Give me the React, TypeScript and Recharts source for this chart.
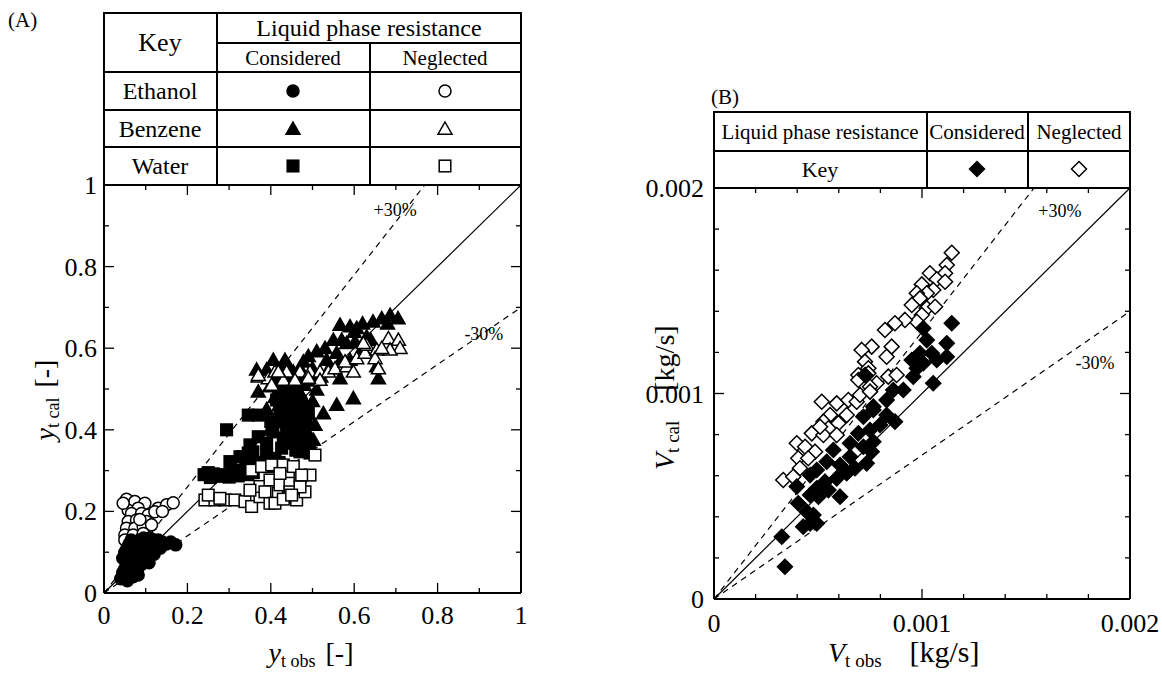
import { ReferenceDot, ReferenceLine, Scatter, ScatterChart, XAxis, YAxis } from "recharts";

const SERIF = "'Liberation Serif', 'Times New Roman', serif";

// (A) mole fraction, calculated vs observed
const ETHANOL_CONSIDERED = [
  [0.04, 0.035], [0.045, 0.05], [0.05, 0.04], [0.05, 0.06], [0.055, 0.075], [0.06, 0.05],
  [0.06, 0.09], [0.065, 0.065], [0.07, 0.08], [0.07, 0.1], [0.075, 0.06], [0.08, 0.09],
  [0.08, 0.11], [0.085, 0.075], [0.09, 0.1], [0.09, 0.12], [0.095, 0.085], [0.1, 0.11],
  [0.1, 0.095], [0.105, 0.125], [0.11, 0.105], [0.115, 0.12], [0.12, 0.095], [0.125, 0.115],
  [0.13, 0.13], [0.135, 0.11], [0.14, 0.125], [0.15, 0.12], [0.16, 0.125], [0.172, 0.118],
  [0.055, 0.11], [0.06, 0.12], [0.065, 0.13], [0.075, 0.125], [0.05, 0.1], [0.045, 0.085],
  [0.085, 0.13], [0.095, 0.135], [0.11, 0.135], [0.12, 0.13], [0.065, 0.045], [0.08, 0.055],
  [0.09, 0.07], [0.1, 0.08], [0.056, 0.03], [0.07, 0.04], [0.108, 0.074], [0.082, 0.044],
];
const ETHANOL_NEGLECTED = [
  [0.054, 0.23], [0.074, 0.224], [0.098, 0.22], [0.058, 0.203], [0.082, 0.208], [0.066, 0.195],
  [0.09, 0.195], [0.106, 0.191], [0.13, 0.208], [0.15, 0.216], [0.166, 0.221], [0.058, 0.175],
  [0.078, 0.179], [0.102, 0.175], [0.054, 0.159], [0.074, 0.159], [0.094, 0.163], [0.114, 0.167],
  [0.05, 0.142], [0.07, 0.142], [0.094, 0.146], [0.05, 0.13], [0.122, 0.199], [0.046, 0.22],
  [0.14, 0.2], [0.086, 0.18],
];
const BENZENE_CONSIDERED = [
  [0.566, 0.657], [0.59, 0.653], [0.606, 0.649], [0.62, 0.66], [0.645, 0.665], [0.666, 0.673],
  [0.68, 0.66], [0.686, 0.681], [0.705, 0.673], [0.582, 0.612], [0.602, 0.616], [0.63, 0.628],
  [0.558, 0.588], [0.534, 0.571], [0.51, 0.592], [0.566, 0.567], [0.59, 0.571], [0.654, 0.555],
  [0.658, 0.526], [0.566, 0.526], [0.598, 0.477], [0.558, 0.461], [0.406, 0.571], [0.434, 0.571],
  [0.478, 0.567], [0.366, 0.547], [0.39, 0.547], [0.426, 0.542], [0.454, 0.542], [0.37, 0.493],
  [0.398, 0.506], [0.51, 0.498], [0.526, 0.44], [0.506, 0.412], [0.502, 0.375], [0.414, 0.424],
  [0.398, 0.4], [0.42, 0.52], [0.44, 0.51], [0.46, 0.52], [0.48, 0.51], [0.43, 0.49],
  [0.45, 0.48], [0.47, 0.49], [0.42, 0.46], [0.44, 0.45], [0.46, 0.46], [0.48, 0.47],
  [0.43, 0.43], [0.45, 0.42], [0.47, 0.43], [0.49, 0.42], [0.44, 0.4], [0.46, 0.39],
  [0.48, 0.4], [0.45, 0.37], [0.47, 0.36], [0.49, 0.37], [0.5, 0.47], [0.52, 0.53],
  [0.54, 0.55], [0.5, 0.55], [0.49, 0.58], [0.53, 0.6], [0.55, 0.62], [0.57, 0.62],
  [0.62, 0.6], [0.64, 0.62], [0.6, 0.64], [0.47, 0.55], [0.44, 0.56], [0.39, 0.45],
  [0.41, 0.48], [0.5, 0.52], [0.43, 0.47], [0.45, 0.45], [0.47, 0.45], [0.44, 0.43],
  [0.46, 0.41], [0.48, 0.44], [0.42, 0.5], [0.46, 0.48], [0.48, 0.53], [0.45, 0.5],
  [0.43, 0.54], [0.41, 0.52], [0.47, 0.39], [0.49, 0.39],
];
const BENZENE_NEGLECTED = [
  [0.37, 0.53], [0.394, 0.526], [0.41, 0.542], [0.438, 0.542], [0.47, 0.542], [0.494, 0.542],
  [0.518, 0.542], [0.538, 0.542], [0.554, 0.55], [0.582, 0.555], [0.598, 0.542], [0.578, 0.567],
  [0.606, 0.575], [0.626, 0.588], [0.63, 0.608], [0.654, 0.596], [0.65, 0.575], [0.682, 0.624],
  [0.706, 0.62], [0.71, 0.6], [0.686, 0.596], [0.666, 0.6], [0.658, 0.55], [0.622, 0.612],
  [0.43, 0.522], [0.402, 0.51], [0.458, 0.522], [0.518, 0.522], [0.49, 0.527], [0.37, 0.534],
  [0.418, 0.542],
];
const WATER_CONSIDERED = [
  [0.294, 0.4], [0.346, 0.436], [0.37, 0.436], [0.302, 0.322], [0.326, 0.334], [0.35, 0.363],
  [0.37, 0.383], [0.346, 0.343], [0.333, 0.334], [0.357, 0.346], [0.39, 0.367], [0.405, 0.395],
  [0.426, 0.355], [0.45, 0.367], [0.47, 0.346], [0.494, 0.343], [0.438, 0.408], [0.422, 0.449],
  [0.414, 0.473], [0.24, 0.29], [0.255, 0.283], [0.262, 0.292], [0.275, 0.286], [0.285, 0.29],
  [0.3, 0.284], [0.308, 0.29], [0.322, 0.287], [0.33, 0.293], [0.345, 0.29], [0.358, 0.295],
  [0.25, 0.295], [0.315, 0.3], [0.34, 0.305], [0.38, 0.32], [0.39, 0.34], [0.41, 0.33],
  [0.43, 0.38], [0.45, 0.4], [0.46, 0.43], [0.44, 0.45], [0.47, 0.41], [0.48, 0.38],
  [0.4, 0.42], [0.42, 0.42], [0.44, 0.48], [0.46, 0.5], [0.43, 0.5], [0.45, 0.52],
  [0.47, 0.47], [0.49, 0.44], [0.36, 0.32], [0.4, 0.31], [0.42, 0.32], [0.46, 0.35],
];
const WATER_NEGLECTED = [
  [0.242, 0.228], [0.266, 0.228], [0.29, 0.228], [0.314, 0.228], [0.338, 0.224], [0.354, 0.212],
  [0.374, 0.236], [0.398, 0.22], [0.418, 0.245], [0.442, 0.236], [0.462, 0.228], [0.482, 0.248],
  [0.374, 0.261], [0.398, 0.277], [0.422, 0.265], [0.446, 0.269], [0.47, 0.285], [0.494, 0.289],
  [0.354, 0.301], [0.378, 0.31], [0.402, 0.314], [0.43, 0.314], [0.454, 0.31], [0.474, 0.289],
  [0.506, 0.338], [0.422, 0.293], [0.386, 0.248], [0.35, 0.252], [0.446, 0.248], [0.47, 0.26],
  [0.41, 0.22], [0.43, 0.23], [0.45, 0.24], [0.25, 0.24], [0.278, 0.232],
];

// (B) vapour flow rate [kg/s], calculated vs observed
const FLOW_CONSIDERED = [
  [0.001143, 0.001342], [0.001119, 0.001244], [0.001119, 0.001179], [0.001006, 0.001317],
  [0.001023, 0.00126], [0.001047, 0.001196], [0.00099, 0.001196], [0.000975, 0.001123],
  [0.000951, 0.001163], [0.001071, 0.001163], [0.001054, 0.00105], [0.001006, 0.001147],
  [0.000958, 0.001082], [0.00091, 0.001017], [0.000862, 0.001017], [0.00083, 0.000968],
  [0.000726, 0.00109], [0.000766, 0.000936], [0.000766, 0.00092], [0.000718, 0.000887],
  [0.00083, 0.000895], [0.00087, 0.000863], [0.000798, 0.000847], [0.00075, 0.000822],
  [0.000694, 0.000806], [0.000766, 0.000765], [0.000654, 0.000758], [0.000718, 0.000741],
  [0.000758, 0.000717], [0.000734, 0.00066], [0.000654, 0.000692], [0.000606, 0.000652],
  [0.000638, 0.000612], [0.00059, 0.000587], [0.000534, 0.000571], [0.000494, 0.000539],
  [0.00055, 0.00053], [0.000606, 0.000498], [0.000502, 0.000498], [0.000462, 0.000506],
  [0.000494, 0.000628], [0.000462, 0.000603], [0.000542, 0.000668], [0.000574, 0.000725],
  [0.000405, 0.000466], [0.000446, 0.000425], [0.000478, 0.000409], [0.000429, 0.000352],
  [0.000494, 0.000368], [0.000398, 0.000547], [0.000326, 0.000303], [0.000341, 0.000157],
  [0.000462, 0.000368], [0.000678, 0.000636],
];
const FLOW_NEGLECTED = [
  [0.001143, 0.001685], [0.001119, 0.001625], [0.001038, 0.001585], [0.001111, 0.001585],
  [0.001071, 0.001556], [0.000999, 0.001531], [0.001111, 0.001544], [0.001054, 0.001504],
  [0.001023, 0.001488], [0.000975, 0.001488], [0.00099, 0.001463], [0.000951, 0.001431],
  [0.001023, 0.001415], [0.001063, 0.001422], [0.000999, 0.001382], [0.000975, 0.001349],
  [0.000918, 0.001358], [0.00087, 0.001342], [0.000822, 0.001309], [0.000758, 0.001228],
  [0.00071, 0.001212], [0.000854, 0.001228], [0.00083, 0.001179], [0.000726, 0.001155],
  [0.000742, 0.001123], [0.000694, 0.00109], [0.000742, 0.001098], [0.000694, 0.001066],
  [0.000782, 0.00105], [0.000838, 0.001082], [0.000878, 0.00109], [0.00075, 0.001033],
  [0.000518, 0.00096], [0.00059, 0.000952], [0.000646, 0.000968], [0.000686, 0.00096],
  [0.000702, 0.000993], [0.00075, 0.001009], [0.000558, 0.000895], [0.000638, 0.000895],
  [0.000526, 0.000863], [0.000598, 0.000855], [0.00055, 0.000831], [0.00047, 0.000806],
  [0.000526, 0.000798], [0.00059, 0.000798], [0.000398, 0.000758], [0.000438, 0.000741],
  [0.000486, 0.000717], [0.000405, 0.000685], [0.000453, 0.000685], [0.000413, 0.000636],
  [0.000333, 0.000579], [0.000381, 0.000595], [0.00051, 0.000838],
];

const TICKS_A = [0, 0.1, 0.2, 0.3, 0.4, 0.5, 0.6, 0.7, 0.8, 0.9, 1];
const MAJOR_A = [0, 0.2, 0.4, 0.6, 0.8, 1];
const TICKS_B = [0, 0.0002, 0.0004, 0.0006, 0.0008, 0.001, 0.0012, 0.0014, 0.0016, 0.0018, 0.002];
const MAJOR_B = [0, 0.001, 0.002];

// deviation band around the y = x line
const PLUS = 1.3;
const MINUS = 0.7;

type Kind = "circle" | "triangle" | "square" | "diamond";
type Series = { name: string; data: number[][]; kind: Kind; filled: boolean };

const SERIES_A: Series[] = [
  { name: "Ethanol neglected", data: ETHANOL_NEGLECTED, kind: "circle", filled: false },
  { name: "Ethanol considered", data: ETHANOL_CONSIDERED, kind: "circle", filled: true },
  { name: "Benzene considered", data: BENZENE_CONSIDERED, kind: "triangle", filled: true },
  { name: "Water considered", data: WATER_CONSIDERED, kind: "square", filled: true },
  { name: "Water neglected", data: WATER_NEGLECTED, kind: "square", filled: false },
  { name: "Benzene neglected", data: BENZENE_NEGLECTED, kind: "triangle", filled: false },
];
const SERIES_B: Series[] = [
  { name: "Neglected", data: FLOW_NEGLECTED, kind: "diamond", filled: false },
  { name: "Considered", data: FLOW_CONSIDERED, kind: "diamond", filled: true },
];

const toXY = (rows: number[][]) => rows.map(([x, y]) => ({ x, y }));

function Marker({ kind, filled, cx, cy }: { kind: Kind; filled: boolean; cx: number; cy: number }) {
  const common = { fill: filled ? "#000" : "#fff", stroke: "#000", strokeWidth: 1.5 };
  if (kind === "circle") return <circle cx={cx} cy={cy} r={6} {...common} />;
  if (kind === "square") {
    const h = 5.8;
    return <rect x={cx - h} y={cy - h} width={2 * h} height={2 * h} {...common} />;
  }
  if (kind === "triangle") {
    const h = 7;
    return (
      <polygon
        points={`${cx},${cy - h} ${cx + h},${cy + h * 0.75} ${cx - h},${cy + h * 0.75}`}
        {...common}
      />
    );
  }
  const d = 7.5;
  return <polygon points={`${cx},${cy - d} ${cx + d},${cy} ${cx},${cy + d} ${cx - d},${cy}`} {...common} />;
}

const isMajor = (majors: number[], v: number) => majors.some((m) => Math.abs(m - v) < 1e-9);

// inward ticks on all four sides; labels only on the major ones
function makeBottomTick(plotH: number, majors: number[], fmt: (v: number) => string, dy: number) {
  return (props: any) => {
    const { x, y, payload } = props;
    const v = payload.value as number;
    const major = isMajor(majors, v);
    const len = major ? 10 : 5;
    return (
      <g>
        <line x1={x} y1={y} x2={x} y2={y - len} stroke="#000" strokeWidth={1.3} />
        <line x1={x} y1={y - plotH} x2={x} y2={y - plotH + len} stroke="#000" strokeWidth={1.3} />
        {major && (
          <text x={x} y={y + dy} textAnchor="middle" fontFamily={SERIF} fontSize={26} fill="#000">
            {fmt(v)}
          </text>
        )}
      </g>
    );
  };
}

function makeLeftTick(plotW: number, majors: number[], fmt: (v: number) => string, dx: number) {
  return (props: any) => {
    const { x, y, payload } = props;
    const v = payload.value as number;
    const major = isMajor(majors, v);
    const len = major ? 10 : 5;
    return (
      <g>
        <line x1={x} y1={y} x2={x + len} y2={y} stroke="#000" strokeWidth={1.3} />
        <line x1={x + plotW} y1={y} x2={x + plotW - len} y2={y} stroke="#000" strokeWidth={1.3} />
        {major && (
          <text x={x - dx} y={y + 9} textAnchor="end" fontFamily={SERIF} fontSize={26} fill="#000">
            {fmt(v)}
          </text>
        )}
      </g>
    );
  };
}

const fmtA = (v: number) => (v === 0 ? "0" : v === 1 ? "1" : v.toFixed(1));
const fmtB = (v: number) => (v === 0 ? "0" : v.toFixed(3));

function BandLabel(text: string) {
  return (p: any) => (
    <text x={p.cx} y={p.cy} textAnchor="middle" fontFamily={SERIF} fontSize={18} fill="#000">
      {text}
    </text>
  );
}

type PanelProps = {
  left: number;
  width: number;
  margin: { top: number; right: number; bottom: number; left: number };
  max: number;
  ticks: number[];
  majors: number[];
  fmt: (v: number) => string;
  series: Series[];
  labelDy: number;
  labelDx: number;
  plusAt: [number, number];
  minusAt: [number, number];
};

function Panel({ left, width, margin, max, ticks, majors, fmt, series, labelDy, labelDx, plusAt, minusAt }: PanelProps) {
  const height = 674;
  // axes take 1px each, so the plot area starts one pixel further in
  const plotW = width - margin.left - margin.right - 1;
  const plotH = height - margin.top - margin.bottom - 1;
  return (
    <div style={{ position: "absolute", left, top: 0 }}>
      <ScatterChart width={width} height={height} margin={margin}>
        <XAxis
          type="number"
          dataKey="x"
          domain={[0, max]}
          ticks={ticks}
          interval={0}
          height={1}
          tickSize={0}
          tickMargin={0}
          tickLine={false}
          axisLine={{ stroke: "#000", strokeWidth: 2 }}
          tick={makeBottomTick(plotH, majors, fmt, labelDy)}
          allowDataOverflow
        />
        <YAxis
          type="number"
          dataKey="y"
          domain={[0, max]}
          ticks={ticks}
          interval={0}
          width={1}
          tickSize={0}
          tickMargin={0}
          tickLine={false}
          axisLine={{ stroke: "#000", strokeWidth: 2 }}
          tick={makeLeftTick(plotW, majors, fmt, labelDx)}
          allowDataOverflow
        />
        <ReferenceLine y={max} stroke="#000" strokeWidth={2} />
        <ReferenceLine x={max} stroke="#000" strokeWidth={2} />
        <ReferenceLine segment={[{ x: 0, y: 0 }, { x: max, y: max }]} stroke="#000" strokeWidth={1.2} />
        <ReferenceLine
          segment={[{ x: 0, y: 0 }, { x: max / PLUS, y: max }]}
          stroke="#000"
          strokeWidth={1.2}
          strokeDasharray="6 5"
        />
        <ReferenceLine
          segment={[{ x: 0, y: 0 }, { x: max, y: max * MINUS }]}
          stroke="#000"
          strokeWidth={1.2}
          strokeDasharray="6 5"
        />
        {series.map((s) => (
          <Scatter
            key={s.name}
            name={s.name}
            data={toXY(s.data)}
            isAnimationActive={false}
            shape={(p: any) => <Marker kind={s.kind} filled={s.filled} cx={p.cx} cy={p.cy} />}
          />
        ))}
        <ReferenceDot x={plusAt[0]} y={plusAt[1]} r={0} shape={BandLabel("+30%")} />
        <ReferenceDot x={minusAt[0]} y={minusAt[1]} r={0} shape={BandLabel("-30%")} />
      </ScatterChart>
    </div>
  );
}

function Overlay() {
  const ln = { stroke: "#000", strokeWidth: 2 };
  const t = { fontFamily: SERIF, fill: "#000", textAnchor: "middle" as const };
  const ts = { fontFamily: SERIF, fill: "#000", textAnchor: "start" as const };
  return (
    <svg
      width={1162}
      height={674}
      style={{ position: "absolute", left: 0, top: 0, pointerEvents: "none" }}
    >
      <text x={8} y={27} fontFamily={SERIF} fontSize={21}>(A)</text>
      <text x={711} y={104} fontFamily={SERIF} fontSize={21}>(B)</text>

      {/* key table, panel A */}
      <rect x={104} y={13} width={417} height={172} fill="#fff" {...ln} />
      <line x1={217} y1={43} x2={521} y2={43} {...ln} />
      <line x1={104} y1={72} x2={521} y2={72} {...ln} />
      <line x1={104} y1={110} x2={521} y2={110} {...ln} />
      <line x1={104} y1={147} x2={521} y2={147} {...ln} />
      <line x1={217} y1={13} x2={217} y2={185} {...ln} />
      <line x1={370} y1={43} x2={370} y2={185} {...ln} />
      <text x={160} y={51} fontSize={26} {...t}>Key</text>
      <text x={369} y={36} fontSize={24} {...t}>Liquid phase resistance</text>
      <text x={293} y={65} fontSize={21} {...t}>Considered</text>
      <text x={445} y={65} fontSize={21} {...t}>Neglected</text>
      <text x={160} y={99} fontSize={24} {...t}>Ethanol</text>
      <text x={160} y={137} fontSize={24} {...t}>Benzene</text>
      <text x={160} y={174} fontSize={24} {...t}>Water</text>
      <Marker kind="circle" filled cx={293} cy={91} />
      <Marker kind="circle" filled={false} cx={445} cy={91} />
      <Marker kind="triangle" filled cx={293} cy={129} />
      <Marker kind="triangle" filled={false} cx={445} cy={129} />
      <Marker kind="square" filled cx={293} cy={166} />
      <Marker kind="square" filled={false} cx={445} cy={166} />

      {/* key table, panel B */}
      <rect x={714} y={112} width={416} height={76} fill="#fff" {...ln} />
      <line x1={714} y1={151} x2={1130} y2={151} {...ln} />
      <line x1={927} y1={112} x2={927} y2={188} {...ln} />
      <line x1={1028} y1={112} x2={1028} y2={188} {...ln} />
      <text x={820} y={139} fontSize={21} {...t}>Liquid phase resistance</text>
      <text x={977} y={139} fontSize={21} {...t}>Considered</text>
      <text x={1079} y={139} fontSize={21} {...t}>Neglected</text>
      <text x={820} y={177} fontSize={22} {...t}>Key</text>
      <Marker kind="diamond" filled cx={977} cy={169} />
      <Marker kind="diamond" filled={false} cx={1079} cy={169} />

      {/* axis titles */}
      <text x={311} y={662} fontSize={28} {...t}>
        <tspan fontStyle="italic">y</tspan>
        <tspan fontSize={18} dy={5}>t obs</tspan>
        <tspan dy={-5} dx={10}>[-]</tspan>
      </text>
      <text x={54} y={400} fontSize={28} {...t} transform="rotate(-90 54 400)">
        <tspan fontStyle="italic">y</tspan>
        <tspan fontSize={18} dy={5}>t cal</tspan>
        <tspan dy={-5} dx={10}>[-]</tspan>
      </text>
      <text x={828} y={662} fontSize={28} {...ts}>
        <tspan fontStyle="italic">V</tspan>
        <tspan fontSize={19} dy={5}>t obs</tspan>
        <tspan dy={-5} dx={28} fontSize={30}>[kg/s]</tspan>
      </text>
      <text x={674} y={470} fontSize={28} {...ts} transform="rotate(-90 674 470)">
        <tspan fontStyle="italic">V</tspan>
        <tspan fontSize={19} dy={5}>t cal</tspan>
        <tspan dy={-5} dx={30}>[kg/s]</tspan>
      </text>
    </svg>
  );
}

export default function App() {
  return (
    <div
      style={{
        position: "absolute",
        left: 0,
        top: 0,
        width: 1162,
        height: 674,
        background: "#fff",
        overflow: "hidden",
      }}
    >
      <Panel
        left={0}
        width={560}
        margin={{ top: 185, right: 39, bottom: 80, left: 103 }}
        max={1}
        ticks={TICKS_A}
        majors={MAJOR_A}
        fmt={fmtA}
        series={SERIES_A}
        labelDy={31}
        labelDx={7}
        plusAt={[0.698, 0.925]}
        minusAt={[0.911, 0.62]}
      />
      <Panel
        left={580}
        width={582}
        margin={{ top: 188, right: 32, bottom: 74, left: 133 }}
        max={0.002}
        ticks={TICKS_B}
        majors={MAJOR_B}
        fmt={fmtB}
        series={SERIES_B}
        labelDy={33}
        labelDx={10}
        plusAt={[0.001663, 0.00186]}
        minusAt={[0.001832, 0.00112]}
      />
      <Overlay />
    </div>
  );
}
